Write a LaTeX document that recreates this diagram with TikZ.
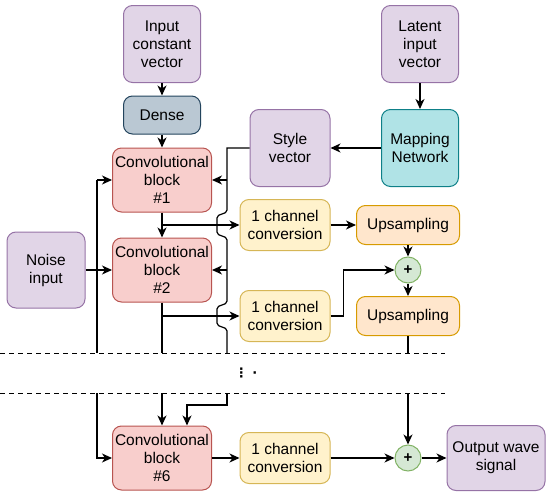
\documentclass[tikz,border=0pt]{standalone}
\usepackage{fontspec}
\setmainfont{Liberation Sans}
\newfontfamily\symfont{DejaVu Sans}
\usetikzlibrary{arrows.meta, positioning, calc}

\definecolor{vecfill}{HTML}{E1D5E7}
\definecolor{vecdraw}{HTML}{9673A6}
\definecolor{densefill}{HTML}{BAC8D3}
\definecolor{densedraw}{HTML}{23445D}
\definecolor{convfill}{HTML}{F8CECC}
\definecolor{convdraw}{HTML}{B85450}
\definecolor{mapfill}{HTML}{B0E3E6}
\definecolor{mapdraw}{HTML}{0E8088}
\definecolor{chfill}{HTML}{FFF2CC}
\definecolor{chdraw}{HTML}{D6B656}
\definecolor{upfill}{HTML}{FFE6CC}
\definecolor{updraw}{HTML}{D79B00}
\definecolor{sumfill}{HTML}{D5E8D4}
\definecolor{sumdraw}{HTML}{82B366}

\begin{document}
\begin{tikzpicture}[
    x=1pt, y=-1pt,
    font=\fontsize{15.5}{18}\selectfont,
    box/.style={rectangle, rounded corners=9pt, line width=1pt, align=center, inner sep=1pt},
    vec/.style={box, draw=vecdraw, fill=vecfill, minimum width=77pt, minimum height=77pt},
    densebox/.style={box, draw=densedraw, fill=densefill, minimum width=77pt, minimum height=38pt},
    conv/.style={box, draw=convdraw, fill=convfill, minimum width=99pt, minimum height=64pt},
    mapnet/.style={box, draw=mapdraw, fill=mapfill, minimum width=77pt, minimum height=77pt},
    chconv/.style={box, draw=chdraw, fill=chfill, minimum width=90pt, minimum height=51pt},
    upsamp/.style={box, draw=updraw, fill=upfill, minimum width=103pt, minimum height=39pt},
    adder/.style={circle, draw=sumdraw, fill=sumfill, line width=1pt, minimum size=26pt, inner sep=0pt, font=\fontsize{15}{15}\selectfont\bfseries},
    wire/.style={line width=1.2pt, draw=black},
    arr/.style={wire, -{Stealth[length=10pt, width=9pt, inset=3pt]}},
    sep/.style={line width=1pt, dash pattern=on 5pt off 4pt}
]
\useasboundingbox (0,0) rectangle (550,498);

% inputs and mapping
\node[vec] (icv) at (162,44) {Input\\constant\\vector};
\node[densebox] (dense) at (162,115) {Dense};
\node[vec] (latent) at (420,44) {Latent\\input\\vector};
\node[mapnet] (map) at (420,148) {Mapping\\Network};
\node[vec, minimum width=80pt] (style) at (290,148) {Style\\vector};
\node[vec, minimum width=78pt, minimum height=76pt] (noise) at (46,270) {Noise\\input};

% synthesis blocks
\node[conv] (c1) at (162,180) {Convolutional\\block\\\#1};
\node[conv] (c2) at (162,270) {Convolutional\\block\\\#2};
\node[conv] (c6) at (162,458) {Convolutional\\block\\\#6};

\node[chconv] (ch1) at (285,225) {1 channel\\conversion};
\node[chconv] (ch2) at (285,316) {1 channel\\conversion};
\node[chconv] (ch3) at (285,458) {1 channel\\conversion};

\node[upsamp] (up1) at (408,225) {Upsampling};
\node[adder] (sum1) at (408,270) {+};
\node[upsamp] (up2) at (408,316) {Upsampling};
\node[adder] (sum2) at (408,458) {+};
\node[vec, minimum width=98pt, minimum height=65pt] (out) at (496,458) {Output wave\\signal};

\node[font=\symfont\fontsize{13}{13}\selectfont\bfseries] (dots) at (246,373) {⋮ ·};

% cut lines
\draw[sep] (0,353) -- (445,353);
\draw[sep] (0,393) -- (445,393);

% free ends on the cut lines
\coordinate (nzTop) at (97,180);
\coordinate (nzBot) at (97,353);
\coordinate (nzLow) at (97,393);
\coordinate (stTop) at (227,148);
\coordinate (stBot) at (227,353);
\coordinate (stLow) at (227,393);
\coordinate (cBot) at (162,353);
\coordinate (cLow) at (162,393);
\coordinate (upBot) at (408,353);
\coordinate (upLow) at (408,393);

% top part
\draw[arr] (icv) -- (dense);
\draw[arr] (dense) -- (c1);
\draw[arr] (latent) -- (map);
\draw[arr] (map) -- (style);

% style vector bus with jumps
\draw[wire] (style.west) -- (stTop)
  -- ($(stTop |- ch1.west)+(0,-15)$) to[out=-90, in=90] ++(-10,8) -- ++(0,14) to[out=-90, in=90] ++(10,8)
  -- ($(stTop |- ch2.west)+(0,-15)$) to[out=-90, in=90] ++(-10,8) -- ++(0,14) to[out=-90, in=90] ++(10,8)
  -- (stBot);
\draw[arr] (stTop |- c1.east) -- (c1.east);
\draw[arr] (stTop |- c2.east) -- (c2.east);

% noise
\draw[arr] (noise) -- (c2);
\draw[wire] (nzTop) -- (nzBot);
\draw[arr] (nzTop) -- (c1.west);

% block chain
\draw[arr] (c1) -- (c2);
\draw[arr] (c1.south |- ch1.west) -- (ch1.west);
\draw[wire] (c2.south) -- (cBot);
\draw[arr] (c2.south |- ch2.west) -- (ch2.west);

\draw[arr] (ch1) -- (up1);
\draw[arr] (up1) -- (sum1);
\draw[arr] (ch2.east) -- ++(13,0) |- (sum1.west);
\draw[arr] (sum1) -- (up2);
\draw[wire] (up2.south) -- (upBot);

% last block
\draw[arr] (nzLow) |- (c6.west);
\draw[arr] (cLow) -- (c6.north);
\draw[arr] (stLow) -- ++(0,12) -| ([xshift=25pt]c6.north);
\draw[arr] (c6) -- (ch3);
\draw[arr] (ch3) -- (sum2);
\draw[arr] (upLow) -- (sum2);
\draw[arr] (sum2) -- (out);

\end{tikzpicture}
\end{document}
